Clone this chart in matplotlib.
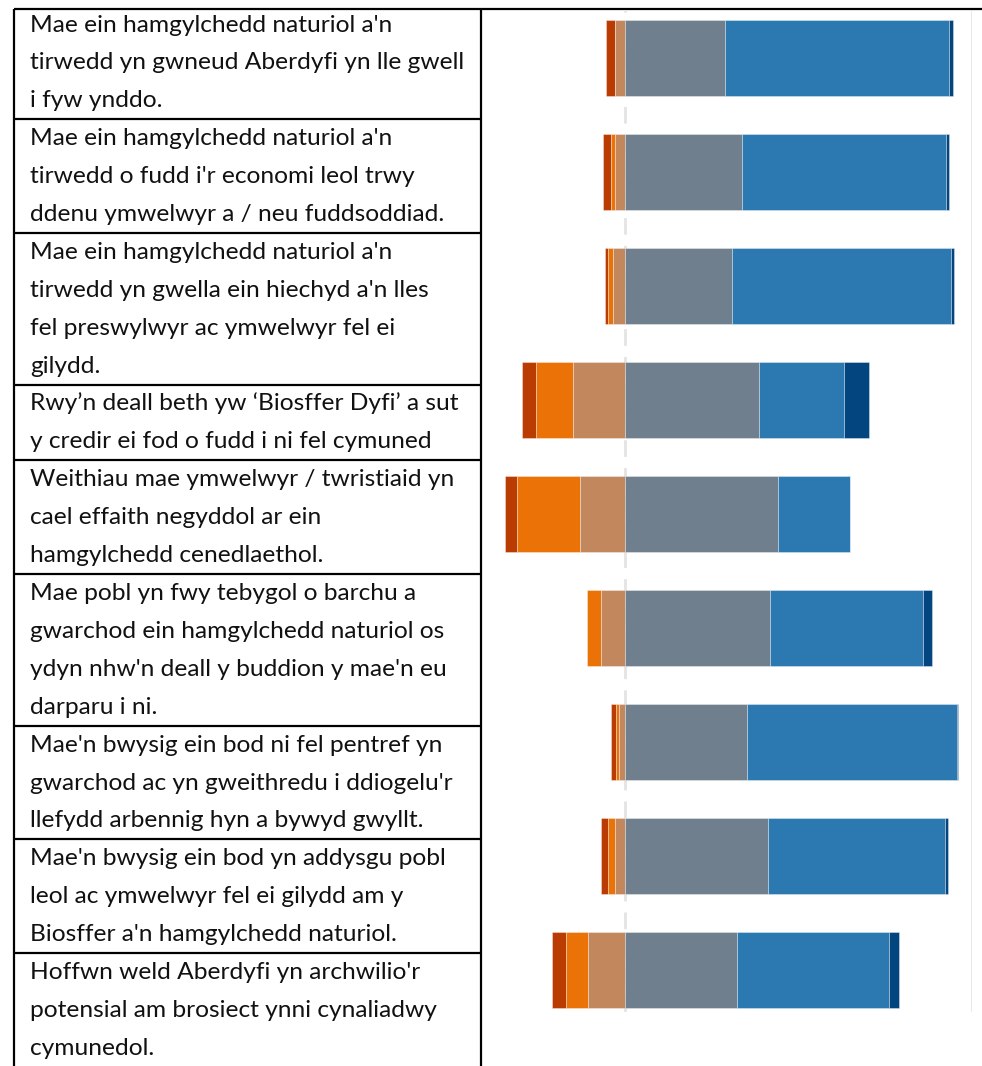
import matplotlib
matplotlib.use("Agg")
import matplotlib.pyplot as plt
import numpy as np

# ---------------- data ----------------
statements = [
    ["Mae ein hamgylchedd naturiol a'n", "tirwedd yn gwneud Aberdyfi yn lle gwell", "i fyw ynddo."],
    ["Mae ein hamgylchedd naturiol a'n", "tirwedd o fudd i'r economi leol trwy", "ddenu ymwelwyr a / neu fuddsoddiad."],
    ["Mae ein hamgylchedd naturiol a'n", "tirwedd yn gwella ein hiechyd a'n lles", "fel preswylwyr ac ymwelwyr fel ei", "gilydd."],
    ["Rwy\u2019n deall beth yw \u2018Biosffer Dyfi\u2019 a sut", "y credir ei fod o fudd i ni fel cymuned"],
    ["Weithiau mae ymwelwyr / twristiaid yn", "cael effaith negyddol ar ein", "hamgylchedd cenedlaethol."],
    ["Mae pobl yn fwy tebygol o barchu a", "gwarchod ein hamgylchedd naturiol os", "ydyn nhw'n deall y buddion y mae'n eu", "darparu i ni."],
    ["Mae'n bwysig ein bod ni fel pentref yn", "gwarchod ac yn gweithredu i ddiogelu'r", "llefydd arbennig hyn a bywyd gwyllt."],
    ["Mae'n bwysig ein bod yn addysgu pobl", "leol ac ymwelwyr fel ei gilydd am y", "Biosffer a'n hamgylchedd naturiol."],
    ["Hoffwn weld Aberdyfi yn archwilio'r", "potensial am brosiect ynni cynaliadwy", "cymunedol."],
]

# percentages per statement (left of zero: strong neg, neg, slight neg; right: neutral, agree, strong agree)
strong_neg = [2.6, 2.3, 0.8, 4.0, 3.5, 0.0, 1.4, 2.1, 4.0]
neg        = [0.0, 1.2, 1.4, 10.7, 18.1, 4.1, 0.9, 2.0, 6.4]
slight_neg = [3.1, 3.0, 3.6, 15.1, 13.2, 7.0, 1.7, 3.0, 10.7]
neutral    = [28.7, 33.6, 30.8, 38.7, 44.1, 41.7, 35.2, 41.1, 32.2]
agree      = [64.8, 58.9, 63.2, 24.5, 20.7, 44.2, 60.4, 51.0, 43.8]
strong_pos = [1.0, 1.0, 0.7, 7.1, 0.0, 2.5, 0.4, 1.0, 2.9]

colors = ["#BB3C03", "#EB7207", "#C2875D", "#707F8D", "#2B79B0", "#03467F"]

# ---------------- figure ----------------
W, H = 982, 1066
fig = plt.figure(figsize=(W / 100, H / 100), dpi=100)

# background axes in pixel coordinates for the table
bg = fig.add_axes([0, 0, 1, 1])
bg.set_xlim(0, W)
bg.set_ylim(H, 0)
bg.axis("off")

font = ["Lato", "DejaVu Sans"]

# size font so that a reference line has the measured width
ref_line = "tirwedd yn gwneud Aberdyfi yn lle gwell"
probe = bg.text(0, 0, ref_line, fontsize=10, family=font)
fig.canvas.draw()
r = fig.canvas.get_renderer()
w10 = probe.get_window_extent(renderer=r).width
probe.remove()
fs = 10 * 433.0 / w10

x_left, x_col = 14, 481
text_x = 30
b0, pitch = 31.5, 37.9
lw_tbl = 1.6

bg.plot([x_left, W], [9, 9], color="black", lw=lw_tbl, solid_capstyle="butt")
bg.plot([x_left, x_left], [9, H], color="black", lw=lw_tbl, solid_capstyle="butt")
bg.plot([x_col, x_col], [9, H], color="black", lw=lw_tbl, solid_capstyle="butt")

k = 0
for ri, lines in enumerate(statements):
    for ln in lines:
        bg.text(text_x, b0 + k * pitch, ln, fontsize=fs, family=font,
                va="baseline", ha="left", color="#111111")
        k += 1
    if ri < len(statements) - 1:
        yd = b0 + (k - 1) * pitch + 12
        bg.plot([x_left, x_col], [yd, yd], color="black", lw=lw_tbl,
                solid_capstyle="butt")

# ---------------- chart axes ----------------
ax_x0, ax_x1 = 490, 972
ax_y0, ax_y1 = 10, 1012
ax = fig.add_axes([ax_x0 / W, 1 - ax_y1 / H, (ax_x1 - ax_x0) / W, (ax_y1 - ax_y0) / H])
px_per_pct = 346.7 / 100.0
zero_px = 625.3
ax.set_xlim(-(zero_px - ax_x0) / px_per_pct, 100)
ax.set_ylim(8.37, -0.42)

n = len(statements)
ypos = np.arange(n)
sn = np.array(strong_neg)
ng = np.array(neg)
sl = np.array(slight_neg)
nu = np.array(neutral)
ag = np.array(agree)
sp = np.array(strong_pos)

lefts = [-(sn + ng + sl), -(ng + sl), -sl, np.zeros(n), nu, nu + ag]
widths = [sn, ng, sl, nu, ag, sp]
bh = 0.666
for lft, wd, c in zip(lefts, widths, colors):
    ax.barh(ypos, wd, left=lft, height=bh, color=c,
            edgecolor=(1, 1, 1, 0.35), linewidth=0.7, zorder=3)

ax.axvline(0, color="#e4e4e4", lw=2, ls=(0, (6, 4)), zorder=1)
ax.axvline(100, color="#e6e6e6", lw=2, zorder=1)

for s in ax.spines.values():
    s.set_visible(False)
ax.set_xticks([])
ax.set_yticks([])
ax.patch.set_alpha(0)

fig.savefig("out.png", dpi=100)
